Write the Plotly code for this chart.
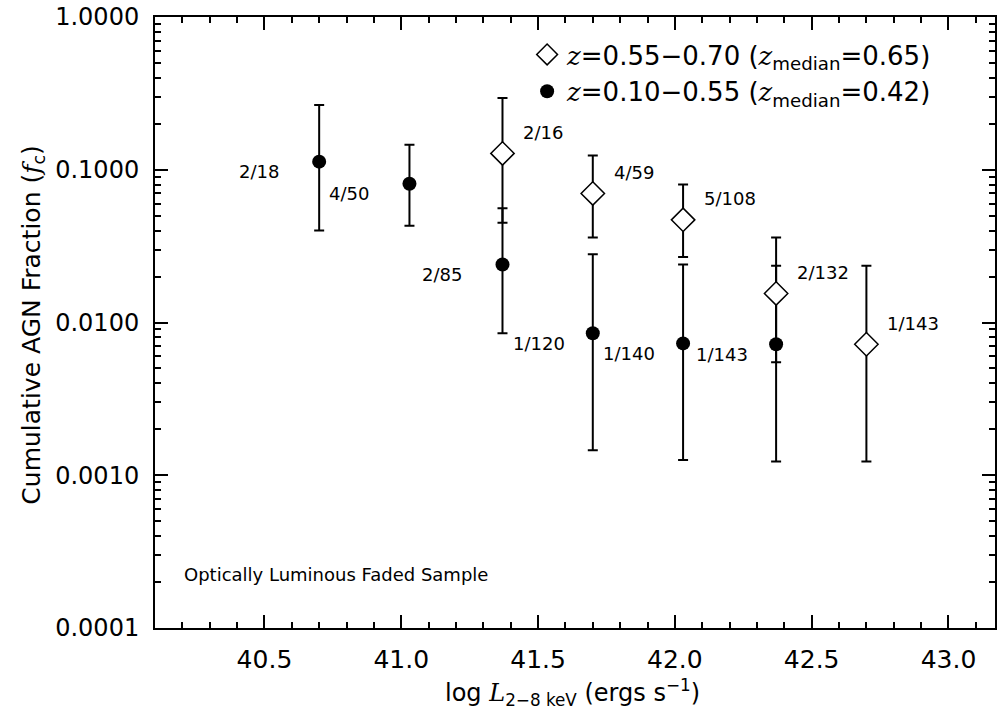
import math
import plotly.graph_objects as go

# ---- data ----
lx_low = [40.70, 41.03, 41.37, 41.70, 42.03, 42.37]          # z = 0.10-0.55 (filled circles)
fc_low = [0.113, 0.081, 0.0240, 0.0085, 0.0073, 0.0072]
fc_low_lo = [0.040, 0.043, 0.0085, 0.00146, 0.00126, 0.00123]
fc_low_hi = [0.265, 0.146, 0.056, 0.0280, 0.0240, 0.0235]
lab_low = ["2/18", "4/50", "2/85", "1/120", "1/140", "1/143"]

lx_high = [41.37, 41.70, 42.03, 42.37, 42.70]                 # z = 0.55-0.70 (open diamonds)
fc_high = [0.128, 0.070, 0.047, 0.0155, 0.0072]
fc_high_lo = [0.045, 0.036, 0.0268, 0.0055, 0.00123]
fc_high_hi = [0.295, 0.124, 0.080, 0.036, 0.0235]
lab_high = ["2/16", "4/59", "5/108", "2/132", "1/143"]

FONT = "DejaVu Sans"
SERIF = "DejaVu Serif"

def zi(s):
    return f'<span style="font-family:{SERIF}"><i>{s}</i></span>'

name_high = f'{zi("z")}=0.55\u22120.70 ({zi("z")}<sub>median</sub>=0.65)'
name_low = f'{zi("z")}=0.10\u22120.55 ({zi("z")}<sub>median</sub>=0.42)'

fig = go.Figure()

fig.add_trace(go.Scatter(
    x=lx_low, y=fc_low, mode="markers", name=name_low, legendrank=2,
    marker=dict(symbol="circle", size=14, color="black"),
    error_y=dict(type="data", symmetric=False,
                 array=[h - v for h, v in zip(fc_low_hi, fc_low)],
                 arrayminus=[v - l for v, l in zip(fc_low, fc_low_lo)],
                 color="black", thickness=2, width=5),
))
fig.add_trace(go.Scatter(
    x=lx_high, y=fc_high, mode="markers", name=name_high, legendrank=1,
    marker=dict(symbol="diamond", size=18, color="white",
                line=dict(color="black", width=1.5)),
    error_y=dict(type="data", symmetric=False,
                 array=[h - v for h, v in zip(fc_high_hi, fc_high)],
                 arrayminus=[v - l for v, l in zip(fc_high, fc_high_lo)],
                 color="black", thickness=2, width=5),
))

ann = []
for x, y, t in zip(lx_low, fc_low, lab_low):
    ann.append(dict(x=x, y=math.log10(y), yref="y", xref="x", text=t, showarrow=False,
                    xanchor="left", yanchor="middle", xshift=-82, yshift=-10,
                    font=dict(family=FONT, size=18, color="black")))
for x, y, t in zip(lx_high, fc_high, lab_high):
    ann.append(dict(x=x, y=math.log10(y), yref="y", xref="x", text=t, showarrow=False,
                    xanchor="left", yanchor="middle", xshift=19, yshift=21,
                    font=dict(family=FONT, size=18, color="black")))

ann.append(dict(xref="paper", yref="paper", x=0.032, y=0.087, xanchor="left", yanchor="middle",
                text="Optically Luminous Faded Sample", showarrow=False,
                font=dict(family=FONT, size=18, color="black")))
ann.append(dict(xref="paper", yref="paper", x=0.4976, y=-0.105, xanchor="center", yanchor="middle",
                text=f'log {zi("L")}<sub>2\u22128 keV</sub> (ergs s<sup>\u22121</sup>)', showarrow=False,
                font=dict(family=FONT, size=24, color="black")))
ann.append(dict(xref="paper", yref="paper", x=-0.1456, y=0.496, xanchor="center", yanchor="middle",
                textangle=-90,
                text=f'Cumulative AGN Fraction ({zi("f")}<sub>c</sub>)', showarrow=False,
                font=dict(family=FONT, size=25, color="black")))

axis_common = dict(showline=True, linewidth=2, linecolor="black", mirror="ticks",
                   ticks="inside", ticklen=13, tickwidth=1.5, tickcolor="black",
                   showgrid=False, zeroline=False, ticklabeloverflow="allow",
                   automargin=False)

fig.update_layout(
    width=999, height=713,
    margin=dict(l=155, r=4, t=17, b=85),
    plot_bgcolor="white", paper_bgcolor="white",
    showlegend=True,
    legend=dict(x=0.443, y=0.977, xanchor="left", yanchor="top",
                font=dict(family=FONT, size=26, color="black"),
                bgcolor="rgba(0,0,0,0)", itemsizing="trace"),
    xaxis=dict(range=[40.1, 43.17], tick0=40.5, dtick=0.5, tickformat=".1f",
               tickfont=dict(family=FONT, size=25, color="black"), ticklabelstandoff=8,
               minor=dict(ticks="inside", ticklen=6, tickwidth=1.5, dtick=0.1, tick0=40.0,
                          tickcolor="black", showgrid=False),
               **axis_common),
    yaxis=dict(type="log", range=[-4.0002, 0.0002], dtick=1, tickformat=".4f",
               tickfont=dict(family=FONT, size=24, color="black"), ticklabelstandoff=9,
               minor=dict(ticks="inside", ticklen=6, tickwidth=1.5, dtick="D1",
                          tickcolor="black", showgrid=False),
               **axis_common),
    annotations=ann,
)

fig.write_html("out.html", config={"displayModeBar": False},
               post_script="document.body.style.margin='0';")
